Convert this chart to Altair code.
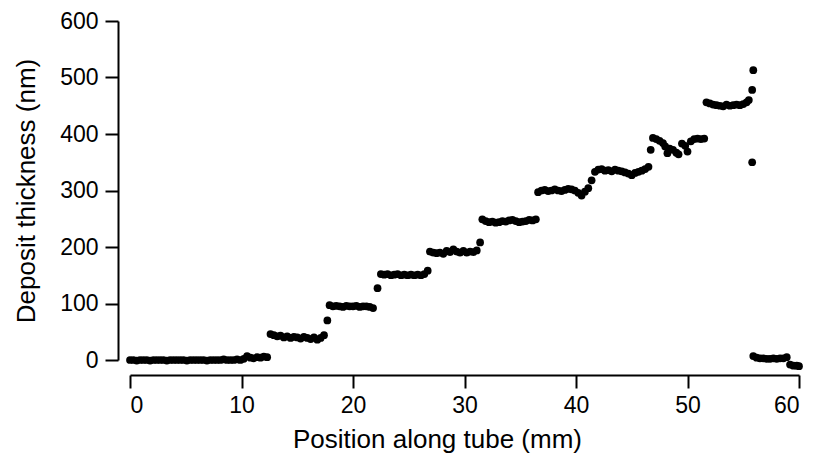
import altair as alt
import pandas as pd

# Position along tube (mm) and deposit thickness (nm)
seg_x_0 = [0.0, 0.3, 0.6, 0.9, 1.2, 1.5, 1.8, 2.1, 2.4, 2.7, 3.0, 3.3, 3.6, 3.9, 4.2, 4.5, 4.8,
           5.1, 5.4, 5.7, 6.0, 6.3, 6.6, 6.9, 7.2, 7.5, 7.8, 8.1, 8.4, 8.7, 9.0, 9.3, 9.6, 9.9]
seg_y_0 = [0, 0, -1, 0, 0, 0, -1, 0, 0, 0, 0, -1, 0, 0, 0, 0, 0,
           -1, 0, 0, 0, 0, 0, -1, 0, 0, 0, 0, 1, 0, 0, 0, 1, 0]

seg_x_1 = [10.2, 10.5, 10.8, 11.1, 11.4, 11.7, 12.0, 12.3]
seg_y_1 = [2, 7, 4, 3, 5, 4, 6, 5]

seg_x_2 = [12.6, 12.9, 13.2, 13.5, 13.8, 14.1, 14.4, 14.7, 15.0, 15.3, 15.6, 15.9, 16.2, 16.5,
           16.8, 17.1, 17.4, 17.7]
seg_y_2 = [46, 44, 42, 43, 40, 42, 39, 41, 40, 38, 41, 39, 37, 40, 36, 39, 44, 70]

seg_x_3 = [17.9, 18.2, 18.5, 18.8, 19.1, 19.4, 19.7, 20.0, 20.3, 20.6, 20.9, 21.2, 21.5, 21.8,
           22.2]
seg_y_3 = [97, 95, 96, 95, 94, 96, 95, 95, 96, 94, 95, 95, 94, 92, 127]

seg_x_4 = [22.5, 22.8, 23.1, 23.4, 23.7, 24.0, 24.3, 24.6, 24.9, 25.2, 25.5, 25.8, 26.1, 26.4,
           26.7]
seg_y_4 = [152, 151, 152, 150, 151, 152, 150, 151, 150, 151, 150, 151, 150, 152, 158]

seg_x_5 = [26.9, 27.2, 27.5, 27.8, 28.1, 28.4, 28.7, 29.0, 29.3, 29.6, 29.9, 30.2, 30.5, 30.8,
           31.1, 31.4]
seg_y_5 = [192, 190, 189, 190, 188, 193, 191, 196, 192, 190, 193, 190, 192, 191, 194, 208]

seg_x_6 = [31.6, 31.9, 32.2, 32.5, 32.8, 33.1, 33.4, 33.7, 34.0, 34.3, 34.6, 34.9, 35.2, 35.5,
           35.8, 36.1, 36.4]
seg_y_6 = [249, 246, 244, 245, 243, 244, 246, 245, 247, 248, 246, 244, 245, 246, 248, 247, 249]

seg_x_7 = [36.6, 36.9, 37.2, 37.5, 37.8, 38.1, 38.4, 38.7, 39.0, 39.3, 39.6, 39.9, 40.2, 40.5,
           40.8, 41.1, 41.4]
seg_y_7 = [297, 300, 301, 299, 300, 302, 300, 299, 301, 303, 302, 300, 296, 291, 298, 304, 318]

seg_x_8 = [41.7, 42.0, 42.3, 42.6, 42.9, 43.2, 43.5, 43.8, 44.1, 44.4, 44.7, 45.0, 45.3, 45.6,
           45.9, 46.2, 46.5, 46.7]
seg_y_8 = [333, 337, 338, 335, 336, 334, 337, 335, 334, 332, 330, 327, 331, 333, 335, 338, 342,
           372]

seg_x_9 = [46.9, 47.2, 47.5, 47.8, 48.0, 48.2, 48.4, 48.7, 49.0, 49.2, 49.5, 49.8, 50.0, 50.3,
           50.6, 50.9, 51.2, 51.5]
seg_y_9 = [393, 391, 388, 384, 378, 366, 374, 372, 367, 364, 383, 379, 369, 387, 391, 392, 391,
           392]

seg_x_10 = [51.7, 52.0, 52.3, 52.6, 52.9, 53.2, 53.5, 53.8, 54.1, 54.4, 54.7, 55.0, 55.3, 55.5,
            55.8, 55.9, 55.8]
seg_y_10 = [456, 454, 452, 451, 450, 449, 452, 450, 451, 452, 451, 453, 456, 460,
            478, 513, 350]

seg_x_11 = [55.9, 56.2, 56.5, 56.8, 57.1, 57.4, 57.7, 58.0, 58.3, 58.6, 58.9, 59.2, 59.5,
            59.8, 60.0]
seg_y_11 = [7, 4, 3, 3, 2, 2, 3, 2, 3, 3, 5, -8, -10, -10, -11]

x_ticks = [0, 10, 20, 30, 40, 50, 60]
y_ticks = [0, 100, 200, 300, 400, 500, 600]

position = (seg_x_0 + seg_x_1 + seg_x_2 + seg_x_3 + seg_x_4 + seg_x_5 + seg_x_6 + seg_x_7
            + seg_x_8 + seg_x_9 + seg_x_10 + seg_x_11)
thickness = (seg_y_0 + seg_y_1 + seg_y_2 + seg_y_3 + seg_y_4 + seg_y_5 + seg_y_6 + seg_y_7
             + seg_y_8 + seg_y_9 + seg_y_10 + seg_y_11)

df = pd.DataFrame({"position": position, "thickness": thickness})

FONT = "Liberation Sans"

axis_style = dict(
    tickSize=13, tickWidth=2, domainWidth=2, grid=False,
    domainColor="black", tickColor="black",
    labelFont=FONT, labelFontSize=23, labelColor="black",
    titleFont=FONT, titleFontSize=26, titleFontWeight="normal", titleColor="black",
)

chart = alt.Chart(df).mark_circle(size=60, color="black", opacity=1, clip=False).encode(
    x=alt.X("position:Q",
            scale=alt.Scale(domain=[0, 60], nice=False, zero=False),
            axis=alt.Axis(values=x_ticks, title="Position along tube (mm)", offset=15,
                          labelPadding=6, titlePadding=9, titleX=307, **axis_style)),
    y=alt.Y("thickness:Q",
            scale=alt.Scale(domain=[0, 600], nice=False),
            axis=alt.Axis(values=y_ticks, title="Deposit thickness (nm)", offset=12,
                          labelPadding=7, titlePadding=20, **axis_style)),
).properties(
    width=669,
    height=339,
    autosize=alt.AutoSizeParams(type="none"),
    padding={"left": 130, "top": 21, "right": 16, "bottom": 112},
).configure_view(stroke=None)

chart.save("out.html", embed_options={"renderer": "svg", "actions": False})
